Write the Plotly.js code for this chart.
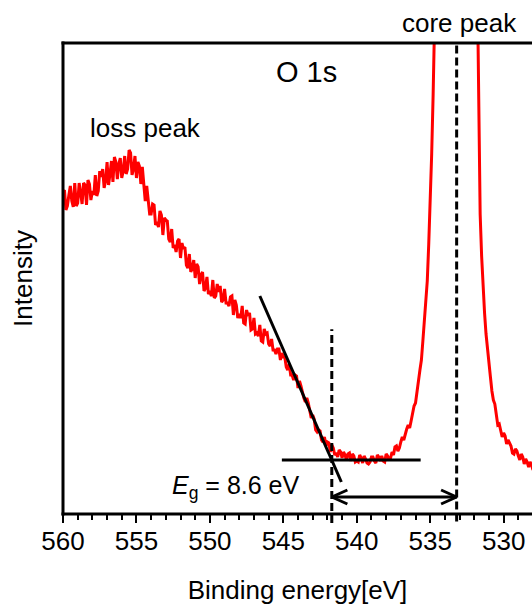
<!DOCTYPE html>
<html>
<head>
<meta charset="utf-8">
<script src="https://cdn.plot.ly/plotly-3.0.1.min.js"></script>
<style>
html,body{margin:0;padding:0;background:#fff;}
#chart{width:532px;height:605px;}
</style>
</head>
<body>
<div id="chart"></div>
<script>
// ---- data ----
const bindingEnergy = [
560.0,559.9,559.8,559.7,559.6,559.5,559.4,559.3,559.2,559.1,
559.0,558.9,558.8,558.7,558.6,558.5,558.4,558.3,558.2,558.1,
558.0,557.9,557.8,557.7,557.6,557.5,557.4,557.3,557.2,557.1,
557.0,556.9,556.8,556.7,556.6,556.5,556.4,556.3,556.2,556.1,
556.0,555.9,555.8,555.7,555.6,555.5,555.4,555.3,555.2,555.1,
555.0,554.9,554.8,554.7,554.6,554.5,554.4,554.3,554.2,554.1,
554.0,553.9,553.8,553.7,553.6,553.5,553.4,553.3,553.2,553.1,
553.0,552.9,552.8,552.7,552.6,552.5,552.4,552.3,552.2,552.1,
552.0,551.9,551.8,551.7,551.6,551.5,551.4,551.3,551.2,551.1,
551.0,550.9,550.8,550.7,550.6,550.5,550.4,550.3,550.2,550.1,
550.0,549.9,549.8,549.7,549.6,549.5,549.4,549.3,549.2,549.1,
549.0,548.9,548.8,548.7,548.6,548.5,548.4,548.3,548.2,548.1,
548.0,547.9,547.8,547.7,547.6,547.5,547.4,547.3,547.2,547.1,
547.0,546.9,546.8,546.7,546.6,546.5,546.4,546.3,546.2,546.1,
546.0,545.9,545.8,545.7,545.6,545.5,545.4,545.3,545.2,545.1,
545.0,544.9,544.8,544.7,544.6,544.5,544.4,544.3,544.2,544.1,
544.0,543.9,543.8,543.7,543.6,543.5,543.4,543.3,543.2,543.1,
543.0,542.9,542.8,542.7,542.6,542.5,542.4,542.3,542.2,542.1,
542.0,541.9,541.8,541.7,541.6,541.5,541.4,541.3,541.2,541.1,
541.0,540.9,540.8,540.7,540.6,540.5,540.4,540.3,540.2,540.1,
540.0,539.9,539.8,539.7,539.6,539.5,539.4,539.3,539.2,539.1,
539.0,538.9,538.8,538.7,538.6,538.5,538.4,538.3,538.2,538.1,
538.0,537.9,537.8,537.7,537.6,537.5,537.4,537.3,537.2,537.1,
537.0,536.9,536.8,536.7,536.6,536.5,536.4,536.3,536.2,536.1,
536.0,535.9,535.8,535.7,535.6,535.5,535.4,535.3,535.2,535.1,
535.0,534.9,534.8,534.7,534.6,534.5,534.4,534.3,534.2,534.1,
534.0,533.9,533.8,533.7,533.6,533.5,533.4,533.3,533.2,533.1,
533.0,532.9,532.8,532.7,532.6,532.5,532.4,532.3,532.2,532.1,
532.0,531.9,531.8,531.7,531.6,531.5,531.4,531.3,531.2,531.1,
531.0,530.9,530.8,530.7,530.6,530.5,530.4,530.3,530.2,530.1,
530.0,529.9,529.8,529.7,529.6,529.5,529.4,529.3,529.2,529.1,
529.0,528.9,528.8,528.7,528.6,528.5,528.4,528.3,528.2,528.1,
528.0
];
const intensity = [
321,324,304,308,319,328,313,307,331,308,
311,331,321,310,331,329,309,334,330,314,
323,319,339,318,323,343,337,345,326,333,
352,329,340,353,332,357,352,335,350,356,
336,343,358,340,345,364,361,339,345,358,
336,352,348,330,347,333,313,328,315,300,
300,310,309,289,292,287,303,299,279,296,
294,293,275,272,285,266,269,262,273,275,
256,271,265,267,249,246,260,242,246,254,
236,250,247,230,239,242,223,226,237,220,
223,218,234,216,218,230,222,228,212,214,
225,211,211,208,217,218,199,214,209,196,
200,196,208,191,190,204,198,201,184,185,
196,180,181,178,189,173,172,185,180,181,
170,168,175,164,164,160,165,165,154,161,
157,157,147,144,150,139,139,134,139,138,
126,133,128,120,116,112,116,111,102,96,
99,95,84,82,84,83,74,72,77,68,
72,71,62,69,66,59,61,57,64,62,
56,62,59,54,60,61,53,60,58,52,
53,52,59,56,51,58,55,51,50,52,
57,57,53,51,59,57,53,58,53,52,
60,58,54,56,62,59,67,68,63,66,
72,77,74,81,85,89,86,93,102,108,
111,120,133,144,154,173,197,216,233,270,
311,360,420,520,640,760,900,1020,1150,1250,
1350,1420,1480,1525,1560,1585,1600,1608,1610,1602,
1590,1562,1530,1480,1420,1340,1250,1140,1020,900,
780,660,540,420,300,258,224,201,180,163,
154,137,123,114,110,101,89,90,84,77,
81,78,70,74,71,68,61,60,65,63,
58,54,60,57,50,55,52,47,52,49,
44
];
// tangent to the absorption-edge slope and the background line
const tangentEnergy = [546.6, 541.05];
const tangentIntensity = [218, 32];
const baselineEnergy = [545.1, 535.65];
const baselineIntensity = [54, 54];
// onset and core-peak positions (eV)
const onsetEnergy = 541.7;
const corePeakEnergy = 533.2;
const arrowLevel = 17;
// axis ticks
const xTickVals = [560, 555, 550, 545, 540, 535, 530];
const xTickText = ['560', '555', '550', '545', '540', '535', '530'];
// labels
const gapLabel = '<i>E</i><sub>g</sub> = 8.6 eV';

// ---- drawing ----
const FONT = 'Liberation Sans, Arial, Helvetica, sans-serif';
const armDx = 1.06, armDy = 7;

const arrowX = [onsetEnergy - armDx, onsetEnergy, onsetEnergy - armDx, null,
                onsetEnergy, corePeakEnergy, null,
                corePeakEnergy + armDx, corePeakEnergy, corePeakEnergy + armDx];
const arrowY = [arrowLevel + armDy, arrowLevel, arrowLevel - armDy, null,
                arrowLevel, arrowLevel, null,
                arrowLevel + armDy, arrowLevel, arrowLevel - armDy];

const traces = [
  {x: bindingEnergy, y: intensity, type: 'scatter', mode: 'lines',
   line: {color: '#ff0000', width: 3}, hoverinfo: 'skip'},
  {x: tangentEnergy, y: tangentIntensity, type: 'scatter', mode: 'lines',
   line: {color: '#000', width: 3}, hoverinfo: 'skip'},
  {x: baselineEnergy, y: baselineIntensity, type: 'scatter', mode: 'lines',
   line: {color: '#000', width: 3}, hoverinfo: 'skip'},
  {x: arrowX, y: arrowY, type: 'scatter', mode: 'lines', connectgaps: false,
   line: {color: '#000', width: 3}, hoverinfo: 'skip'}
];

const ex = 1.5 / 469, ey = 1.5 / 471;
const layout = {
  width: 532, height: 605,
  margin: {l: 63, r: 0, t: 43, b: 91},
  paper_bgcolor: '#fff', plot_bgcolor: '#fff',
  showlegend: false,
  font: {family: FONT, color: '#000'},
  xaxis: {
    range: [560, 528.07], autorange: false,
    tickmode: 'array', tickvals: xTickVals, ticktext: xTickText,
    ticks: 'outside', ticklen: 8, tickwidth: 2, tickcolor: '#000',
    ticklabelstandoff: -4,
    tickfont: {family: FONT, size: 26, color: '#000'},
    minor: {tick0: 0, dtick: 1, ticks: 'outside', ticklen: 5, tickwidth: 2, tickcolor: '#000', showgrid: false},
    showline: false, showgrid: false, zeroline: false,
    title: {text: 'Binding energy[eV]', font: {family: FONT, size: 26, color: '#000'}, standoff: 26}
  },
  yaxis: {
    range: [0, 471], autorange: false,
    showticklabels: false, ticks: '',
    showline: false, showgrid: false, zeroline: false,
    title: {text: 'Intensity', font: {family: FONT, size: 26, color: '#000'}, standoff: 21}
  },
  shapes: [
    // frame (left, bottom, top)
    {type: 'line', xref: 'paper', yref: 'paper', x0: 0, x1: 0, y0: -ey, y1: 1 + ey, line: {color: '#000', width: 3}},
    {type: 'line', xref: 'paper', yref: 'paper', x0: -ex, x1: 1, y0: 0, y1: 0, line: {color: '#000', width: 3}},
    {type: 'line', xref: 'paper', yref: 'paper', x0: -ex, x1: 1, y0: 1, y1: 1, line: {color: '#000', width: 3}},
    // dashed markers
    {type: 'line', xref: 'x', yref: 'paper', x0: onsetEnergy, x1: onsetEnergy, y0: -0.019, y1: 0.392,
     line: {color: '#000', width: 3, dash: '8px,4px'}},
    {type: 'line', xref: 'x', yref: 'paper', x0: corePeakEnergy, x1: corePeakEnergy, y0: -0.016, y1: 1,
     line: {color: '#000', width: 3, dash: '8px,4px'}}
  ],
  annotations: [
    {text: 'O 1s', xref: 'x', yref: 'y', x: 543.4, y: 442, showarrow: false,
     font: {family: FONT, size: 29, color: '#000'}},
    {text: 'loss peak', xref: 'x', yref: 'y', x: 554.38, y: 386, showarrow: false,
     font: {family: FONT, size: 26, color: '#000'}},
    {text: 'core peak', xref: 'x', yref: 'paper', x: 533.02, y: 1.043, xanchor: 'center', yanchor: 'middle',
     showarrow: false, font: {family: FONT, size: 26, color: '#000'}},
    {text: gapLabel, xref: 'x', yref: 'y', x: 543.75, y: 27, xanchor: 'right', showarrow: false,
     font: {family: FONT, size: 25, color: '#000'}}
  ]
};

Plotly.newPlot('chart', traces, layout, {staticPlot: true, displayModeBar: false});
</script>
</body>
</html>
